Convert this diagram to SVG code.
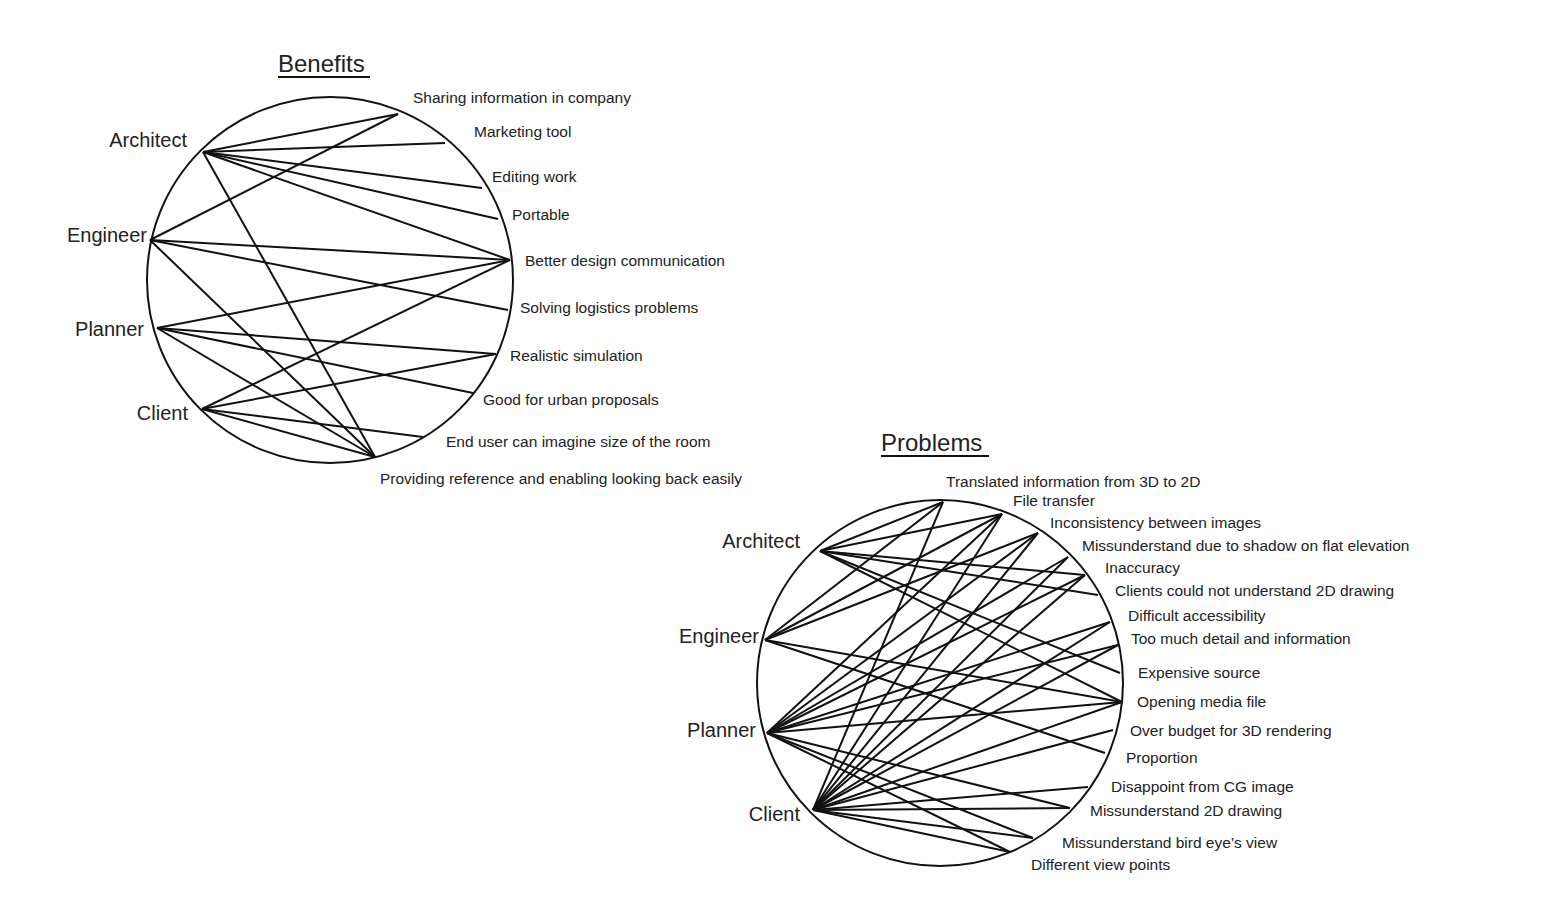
<svg xmlns="http://www.w3.org/2000/svg" width="1556" height="905" viewBox="0 0 1556 905">
<style>
text{font-family:"Liberation Sans",Arial,sans-serif;fill:#222}
.l{font-size:15.5px}
.n{font-size:20px}
.t{font-size:24px}
circle{fill:none;stroke:#111;stroke-width:2}
#edges line{stroke:#111;stroke-width:2}
.u{stroke:#111;stroke-width:2}
</style>
<rect width="1556" height="905" fill="#fff"/>
<g id="benefits">
<text class="t" x="278" y="72">Benefits</text><line class="u" x1="278" y1="77" x2="370" y2="77"/>
<circle cx="330" cy="280" r="183"/>
<g id="b-nodes" class="n">
<text class="n" x="187" y="147" text-anchor="end">Architect</text>
<text class="n" x="147" y="242" text-anchor="end">Engineer</text>
<text class="n" x="144" y="336" text-anchor="end">Planner</text>
<text class="n" x="188" y="420" text-anchor="end">Client</text>
</g>
<g id="b-labels">
<text class="l" x="413" y="103">Sharing information in company</text>
<text class="l" x="474" y="137">Marketing tool</text>
<text class="l" x="492" y="182">Editing work</text>
<text class="l" x="512" y="220">Portable</text>
<text class="l" x="525" y="266">Better design  communication</text>
<text class="l" x="520" y="313">Solving logistics problems</text>
<text class="l" x="510" y="361">Realistic simulation</text>
<text class="l" x="483" y="405">Good for urban proposals</text>
<text class="l" x="446" y="447">End user  can imagine size of the room</text>
<text class="l" x="380" y="484">Providing reference and enabling looking back easily</text>
</g>
</g>
<g id="problems">
<text class="t" x="881" y="451">Problems</text><line class="u" x1="881" y1="456" x2="989" y2="456"/>
<circle cx="940" cy="683" r="183"/>
<g id="p-nodes">
<text class="n" x="800" y="548" text-anchor="end">Architect</text>
<text class="n" x="759" y="643" text-anchor="end">Engineer</text>
<text class="n" x="756" y="737" text-anchor="end">Planner</text>
<text class="n" x="800" y="821" text-anchor="end">Client</text>
</g>
<g id="p-labels">
<text class="l" x="946" y="487">Translated information from 3D to 2D</text>
<text class="l" x="1013" y="506">File transfer</text>
<text class="l" x="1050" y="528">Inconsistency between images</text>
<text class="l" x="1082" y="551">Missunderstand due to shadow on flat elevation</text>
<text class="l" x="1105" y="573">Inaccuracy</text>
<text class="l" x="1115" y="596">Clients could not understand 2D drawing</text>
<text class="l" x="1128" y="621">Difficult accessibility</text>
<text class="l" x="1131" y="644">Too much detail and information</text>
<text class="l" x="1138" y="678">Expensive source</text>
<text class="l" x="1137" y="707">Opening media file</text>
<text class="l" x="1130" y="736">Over budget for 3D rendering</text>
<text class="l" x="1126" y="763">Proportion</text>
<text class="l" x="1111" y="792">Disappoint from CG image</text>
<text class="l" x="1090" y="816">Missunderstand 2D drawing</text>
<text class="l" x="1062" y="848">Missunderstand bird eye’s view</text>
<text class="l" x="1031" y="870">Different view points</text>
</g>
</g>
<g id="edges">
<!-- benefits -->
<line x1="203" y1="152" x2="398" y2="114"/>
<line x1="203" y1="152" x2="445" y2="143"/>
<line x1="203" y1="152" x2="482" y2="188"/>
<line x1="203" y1="152" x2="498" y2="219"/>
<line x1="203" y1="152" x2="510" y2="260"/>
<line x1="203" y1="152" x2="375" y2="457"/>
<line x1="150" y1="240" x2="398" y2="114"/>
<line x1="150" y1="240" x2="510" y2="260"/>
<line x1="150" y1="240" x2="508" y2="310"/>
<line x1="150" y1="240" x2="375" y2="457"/>
<line x1="157" y1="328" x2="510" y2="260"/>
<line x1="157" y1="328" x2="496" y2="354"/>
<line x1="157" y1="328" x2="473" y2="393"/>
<line x1="157" y1="328" x2="375" y2="457"/>
<line x1="202" y1="409" x2="510" y2="260"/>
<line x1="202" y1="409" x2="496" y2="354"/>
<line x1="202" y1="409" x2="423" y2="437"/>
<line x1="202" y1="409" x2="375" y2="457"/>
<!-- problems: A -->
<line x1="820" y1="551" x2="943" y2="502"/>
<line x1="820" y1="551" x2="1002" y2="514"/>
<line x1="820" y1="551" x2="1085" y2="575"/>
<line x1="820" y1="551" x2="1098" y2="595"/>
<line x1="820" y1="551" x2="1120" y2="673"/>
<line x1="820" y1="551" x2="1122" y2="702"/>
<!-- E -->
<line x1="765" y1="640" x2="943" y2="502"/>
<line x1="765" y1="640" x2="1002" y2="514"/>
<line x1="765" y1="640" x2="1038" y2="533"/>
<line x1="765" y1="640" x2="1122" y2="702"/>
<line x1="765" y1="640" x2="1105" y2="753"/>
<!-- P -->
<line x1="767" y1="733" x2="1002" y2="514"/>
<line x1="767" y1="733" x2="1038" y2="533"/>
<line x1="767" y1="733" x2="1068" y2="557"/>
<line x1="767" y1="733" x2="1085" y2="575"/>
<line x1="767" y1="733" x2="1110" y2="622"/>
<line x1="767" y1="733" x2="1118" y2="645"/>
<line x1="767" y1="733" x2="1122" y2="702"/>
<line x1="767" y1="733" x2="1070" y2="808"/>
<line x1="767" y1="733" x2="1033" y2="838"/>
<line x1="767" y1="733" x2="1010" y2="852"/>
<!-- C -->
<line x1="813" y1="810" x2="943" y2="502"/>
<line x1="813" y1="810" x2="1002" y2="514"/>
<line x1="813" y1="810" x2="1038" y2="533"/>
<line x1="813" y1="810" x2="1068" y2="557"/>
<line x1="813" y1="810" x2="1085" y2="575"/>
<line x1="813" y1="810" x2="1110" y2="622"/>
<line x1="813" y1="810" x2="1118" y2="645"/>
<line x1="813" y1="810" x2="1122" y2="702"/>
<line x1="813" y1="810" x2="1113" y2="730"/>
<line x1="813" y1="810" x2="1088" y2="787"/>
<line x1="813" y1="810" x2="1070" y2="808"/>
<line x1="813" y1="810" x2="1033" y2="838"/>
<line x1="813" y1="810" x2="1010" y2="852"/>
</g>
</svg>
